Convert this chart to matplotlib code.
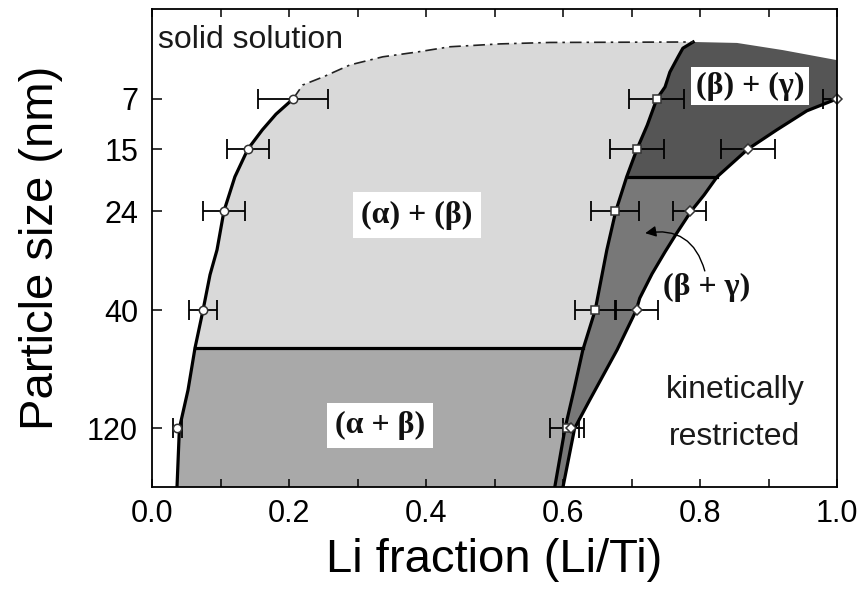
import numpy as np
import matplotlib
matplotlib.use("Agg")
import matplotlib.pyplot as plt
from matplotlib.ticker import MultipleLocator

plt.rcParams['font.family'] = ['Liberation Sans', 'DejaVu Sans']

# ---- categories (particle size) and their vertical positions (axis units 0..100) ----
sizes = ["7", "15", "24", "40", "120"]
size_pos = [81.2, 70.7, 57.7, 37.0, 12.3]

# ---- measured points with x error bars ----
alpha_x = [0.206, 0.140, 0.105, 0.0745, 0.037]
alpha_err = [0.051, 0.031, 0.031, 0.021, 0.007]
beta_x = [0.737, 0.708, 0.676, 0.647, 0.606]
beta_err = [0.040, 0.040, 0.035, 0.029, 0.025]
gamma_x = [1.0, 0.870, 0.785, 0.708, 0.612]
gamma_err = [0.020, 0.040, 0.024, 0.030, 0.012]

# ---- phase boundaries (x, y), ordered by increasing y ----
alpha_line_x = [0.0365, 0.040, 0.0526, 0.0628, 0.0745, 0.0847, 0.0949, 0.105, 0.121, 0.140, 0.161, 0.181, 0.206]
alpha_line_y = [0.0, 12.3, 20.3, 29.1, 37.0, 44.4, 49.6, 57.7, 64.9, 70.7, 74.7, 78.0, 81.2]

beta_line_x = [0.588, 0.603, 0.616, 0.629, 0.647, 0.664, 0.677, 0.693, 0.708, 0.723, 0.737, 0.749, 0.756, 0.768, 0.775, 0.790]
beta_line_y = [0.0, 12.3, 20.3, 28.7, 37.0, 49.6, 57.7, 64.9, 70.7, 75.7, 81.2, 83.7, 86.8, 90.0, 91.8, 93.1]

gamma_line_x = [0.600, 0.617, 0.639, 0.679, 0.707, 0.712, 0.730, 0.749, 0.766, 0.787, 0.806, 0.825, 0.870, 0.912, 0.956, 1.0]
gamma_line_y = [0.0, 12.3, 18.2, 28.7, 37.0, 39.5, 44.6, 49.2, 53.1, 57.7, 61.1, 64.9, 70.7, 74.7, 78.7, 81.2]

# upper limit of the solid solution (dash-dot)
top_x = [0.206, 0.220, 0.250, 0.289, 0.337, 0.387, 0.435, 0.508, 0.581, 0.790]
top_y = [81.2, 84.1, 85.8, 88.3, 90.0, 91.0, 92.1, 92.7, 93.0, 93.1]

# upper edge of the (beta)+(gamma) region
dark_top_x = [0.790, 0.854, 0.921, 1.0, 1.0]
dark_top_y = [93.1, 92.9, 91.4, 89.3, 81.2]

# horizontal phase separations
y_ab = 29.0
y_bg = 64.9


def seg(xs, ys, ylo, yhi):
    xs = np.asarray(xs); ys = np.asarray(ys)
    m = (ys > ylo) & (ys < yhi)
    px = [np.interp(ylo, ys, xs)] + list(xs[m]) + [np.interp(yhi, ys, xs)]
    py = [ylo] + list(ys[m]) + [yhi]
    return np.array(px), np.array(py)


fig = plt.figure(figsize=(8.65, 5.92), dpi=100)
ax = fig.add_axes([152/865, 1-487/592, 685/865, 478/592])
ax.set_xlim(0, 1.0)
ax.set_ylim(0, 478/4.78)

c_light, c_med, c_bg, c_dark = '#d9d9d9', '#a9a9a9', '#787878', '#555555'

# (alpha+beta)
ax_, ay_ = seg(alpha_line_x, alpha_line_y, 0, y_ab)
bx_, by_ = seg(beta_line_x, beta_line_y, 0, y_ab)
ax.fill(np.r_[ax_, bx_[::-1]], np.r_[ay_, by_[::-1]], color=c_med, lw=0, zorder=1)

# (alpha)+(beta)
ax_, ay_ = seg(alpha_line_x, alpha_line_y, y_ab, alpha_line_y[-1])
bx_, by_ = seg(beta_line_x, beta_line_y, y_ab, beta_line_y[-1])
ax.fill(np.r_[ax_, top_x[1:], bx_[::-1]], np.r_[ay_, top_y[1:], by_[::-1]], color=c_light, lw=0, zorder=1)

# (beta+gamma)
bx_, by_ = seg(beta_line_x, beta_line_y, 0, y_bg)
gx_, gy_ = seg(gamma_line_x, gamma_line_y, 0, y_bg)
ax.fill(np.r_[bx_, gx_[::-1]], np.r_[by_, gy_[::-1]], color=c_bg, lw=0, zorder=1)

# (beta)+(gamma)
bx_, by_ = seg(beta_line_x, beta_line_y, y_bg, beta_line_y[-1])
gx_, gy_ = seg(gamma_line_x, gamma_line_y, y_bg, gamma_line_y[-1])
ax.fill(np.r_[bx_, dark_top_x[1:], gx_[::-1]], np.r_[by_, dark_top_y[1:], gy_[::-1]], color=c_dark, lw=0, zorder=1)

# boundary lines
lw = 2.3
ax.plot(alpha_line_x, alpha_line_y, color='black', lw=lw, zorder=3)
ax.plot(beta_line_x, beta_line_y, color='black', lw=lw, zorder=3)
ax.plot(gamma_line_x, gamma_line_y, color='black', lw=lw, zorder=3)
ax.plot(top_x, top_y, color='#222222', lw=1.2, dashes=(7, 3, 1.5, 3), zorder=3)
ax.plot([np.interp(y_ab, alpha_line_y, alpha_line_x), np.interp(y_ab, beta_line_y, beta_line_x)],
        [y_ab, y_ab], color='black', lw=lw, zorder=3)
ax.plot([np.interp(y_bg, beta_line_y, beta_line_x), np.interp(y_bg, gamma_line_y, gamma_line_x)],
        [y_bg, y_bg], color='black', lw=lw, zorder=3)

# data points with error bars
for xs, errs, mk in [(alpha_x, alpha_err, 'o'), (beta_x, beta_err, 's'), (gamma_x, gamma_err, 'D')]:
    ax.errorbar(xs, size_pos, xerr=errs, fmt='none', ecolor='black', elinewidth=1.3,
                capsize=7, capthick=1.3, zorder=4)
    ax.plot(xs, size_pos, ls='none', marker=mk, ms=6 if mk != 'D' else 5.5, mfc='white',
            mec='#333333', mew=1.1, zorder=5, clip_on=False)

# labels
serif = dict(family=['Liberation Serif', 'DejaVu Serif'], weight='bold', fontsize=23, color='#111111')
box = dict(boxstyle='square,pad=0.25', fc='white', ec='none')
ax.text(0.387, 56.9, '(α) + (β)', ha='center', va='center', bbox=box, zorder=6, **serif)
ax.text(0.333, 12.8, '(α + β)', ha='center', va='center', bbox=box, zorder=6, **serif)
ax.text(0.873, 83.9, '(β) + (γ)', ha='center', va='center',
        bbox=dict(boxstyle='square,pad=0.15', fc='white', ec='none'), zorder=6, **serif)
ax.text(0.809, 41.8, '(β + γ)', ha='center', va='center', zorder=6, **serif)
ax.annotate('', xy=(0.720, 53.1), xytext=(0.807, 45.2),
            arrowprops=dict(arrowstyle='-|>', color='black', lw=1.0, mutation_scale=16,
                            connectionstyle='arc3,rad=0.45', shrinkA=0, shrinkB=0), zorder=6)

ax.text(0.0088, 93.5, 'solid solution', ha='left', va='center', fontsize=23, color='#1a1a1a', zorder=6)
ax.text(0.851, 18.6, 'kinetically', ha='center', va='baseline', fontsize=23, color='#1a1a1a', zorder=6)
ax.text(0.851, 8.8, 'restricted', ha='center', va='baseline', fontsize=23, color='#1a1a1a', zorder=6)

# axes styling
ax.set_yticks(size_pos, labels=sizes)
ax.xaxis.set_major_locator(MultipleLocator(0.2))
ax.xaxis.set_minor_locator(MultipleLocator(0.1))
ax.set_xticks([0.0, 0.2, 0.4, 0.6, 0.8, 1.0], labels=['0.0', '0.2', '0.4', '0.6', '0.8', '1.0'])
ax.tick_params(axis='x', which='both', direction='in', top=True, bottom=True, length=6, width=1.1,
               labelsize=22, pad=9)
ax.tick_params(axis='y', which='both', direction='in', left=True, right=False, length=7, width=1.1,
               labelsize=22, pad=10)
for s in ax.spines.values():
    s.set_linewidth(1.3)
    s.set_zorder(7)

ax.set_xlabel('Li fraction (Li/Ti)', fontsize=34, labelpad=6)
ax.set_ylabel('Particle size (nm)', fontsize=34, labelpad=17)

fig.savefig('out.png', dpi=100)
